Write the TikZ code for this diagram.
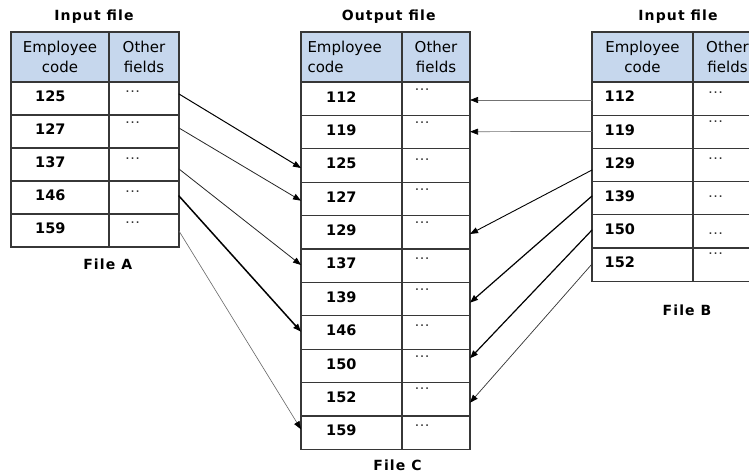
\documentclass[tikz,border=0pt]{standalone}
\usepackage{fontspec}
\setmainfont{DejaVu Sans}
\newfontfamily\titlefont[LetterSpace=8]{DejaVu Sans}
\newfontfamily\dotfont{Liberation Sans}
\usetikzlibrary{arrows.meta}
\definecolor{hdrblue}{RGB}{198,215,237}
\definecolor{rulegray}{RGB}{55,55,55}
\tikzset{
  tbl/.style={draw=rulegray, line width=1.1pt, inner sep=0pt, outer sep=0pt},
  hdr/.style={tbl, fill=hdrblue, minimum height=50pt, align=center,
              font=\fontsize{15}{20}\selectfont},
  num/.style={inner sep=0pt, anchor=west, font=\bfseries\fontsize{14.5}{17}\selectfont},
  etc/.style={inner sep=0pt, anchor=base, text=black!80,
              font=\dotfont\fontsize{16}{16}\selectfont},
  ttl/.style={inner sep=0pt, anchor=base, font=\titlefont\bfseries\fontsize{14}{16}\selectfont},
  link/.style={-{Triangle[length=8pt,width=6pt,color=black]}, line cap=round}
}
\begin{document}
\begin{tikzpicture}[x=1pt,y=-1pt]
\useasboundingbox (0,0) rectangle (749,473);
\clip (0,0) rectangle (749,473);
\fill[white] (0,0) rectangle (749,473);

% ---------- File A (input) ----------
\node[ttl] (ta) at (94,21) {Input file};
\node[hdr, minimum width=98pt] (hca) at (60,57) {Employee\\code};
\node[hdr, minimum width=70pt] (hoa) at (144,57) {Other\\fields};
\foreach \c/\d [count=\i from 0] in {125/9.7,127/7.5,137/10.6,146/10.4,159/8.2}{
  \node[tbl, minimum width=98pt, minimum height=33pt] (ca\c) at (60,{98.5+33*\i}) {};
  \node[tbl, minimum width=70pt, minimum height=33pt] (oa\c) at (144,{98.5+33*\i}) {};
  \node[num] (na\c) at (35,{96.5+33*\i}) {\c};
  \node[etc] (ea\c) at (132.5,{83+33*\i+\d}) {…};
}
\node[ttl] (fa) at (107.7,269) {File A};

% ---------- File C (output) ----------
\node[ttl] (tc) at (388.7,21) {Output file};
\node[hdr, minimum width=101pt, text width=88pt, align=left] (hcc) at (351.5,57) {Employee\\code};
\node[hdr, minimum width=68pt] (hoc) at (436,57) {Other\\fields};
\foreach \c/\d [count=\i from 0] in {112/8,119/7.3,125/10.5,127/6.8,129/7.1,137/9,139/6.6,146/9.2,150/6.8,152/5.4,159/9}{
  \node[tbl, minimum width=101pt, minimum height=33.4pt] (cc\c) at (351.5,{98.7+33.4*\i}) {};
  \node[tbl, minimum width=68pt, minimum height=33.4pt] (oc\c) at (436,{98.7+33.4*\i}) {};
  \node[num] (nc\c) at (326,{96.7+33.4*\i}) {\c};
  \node[etc] (ec\c) at (422,{83+33.4*\i+\d}) {…};
}
\node[ttl] (fc) at (397.5,470) {File C};

% ---------- File B (input) ----------
\node[ttl] (tb) at (678,21) {Input file};
\node[hdr, minimum width=101pt] (hcb) at (642.5,57) {Employee\\code};
\node[hdr, minimum width=69pt] (hob) at (727.5,57) {Other\\fields};
\foreach \c/\d [count=\i from 0] in {112/10.7,119/6.5,129/10.6,139/14.4,150/18.2,152/5}{
  \node[tbl, minimum width=101pt, minimum height=33.2pt] (cb\c) at (642.5,{98.6+33.2*\i}) {};
  \node[tbl, minimum width=69pt, minimum height=33.2pt] (ob\c) at (727.5,{98.6+33.2*\i}) {};
  \node[num] (nb\c) at (604.5,{96.6+33.2*\i}) {\c};
  \node[etc] (eb\c) at (715.5,{83+33.2*\i+\d}) {…};
}
\node[ttl] (fb) at (687,315) {File B};

% ---------- records taken from File A ----------
\draw[link, line width=1pt] ([yshift=4.5pt]oa125.east) -- ([yshift=-2.5pt]cc125.west);
\draw[link, line width=0.8pt, draw=black!85] ([yshift=3.5pt]oa127.east) -- ([yshift=-1.8pt]cc127.west);
\draw[link, line width=0.8pt, draw=black!85] ([yshift=-4.5pt]oa137.east) -- ([yshift=0.7pt]cc137.west);
\draw[link, line width=1.5pt] ([yshift=1.5pt]oa146.east) -- ([yshift=0.8pt]cc146.west);
\draw[link, line width=0.6pt, draw=black!60] ([yshift=-0.5pt]oa159.east) -- ([yshift=3.4pt]cc159.west);

% ---------- records taken from File B ----------
\draw[link, line width=0.7pt, draw=black!55] ([yshift=-1.4pt]cb112.west) -- ([yshift=-1.3pt]oc112.east);
\draw[link, line width=0.7pt, draw=black!55] ([yshift=0.4pt]cb119.west) -- ([yshift=0.4pt]oc119.east);
\draw[link, line width=0.9pt] ([yshift=-5pt]cb129.west) -- ([yshift=-1.7pt]oc129.east);
\draw[link, line width=1.2pt] ([yshift=2.2pt]cb139.west) -- ([yshift=-3.6pt]oc139.east);
\draw[link, line width=1.2pt] ([yshift=1.4pt]cb150.west) -- ([yshift=7.6pt]oc150.east);
\draw[link, line width=0.7pt, draw=black!80] ([yshift=0.6pt]cb152.west) -- ([yshift=-3.4pt]oc152.east);
\end{tikzpicture}
\end{document}
